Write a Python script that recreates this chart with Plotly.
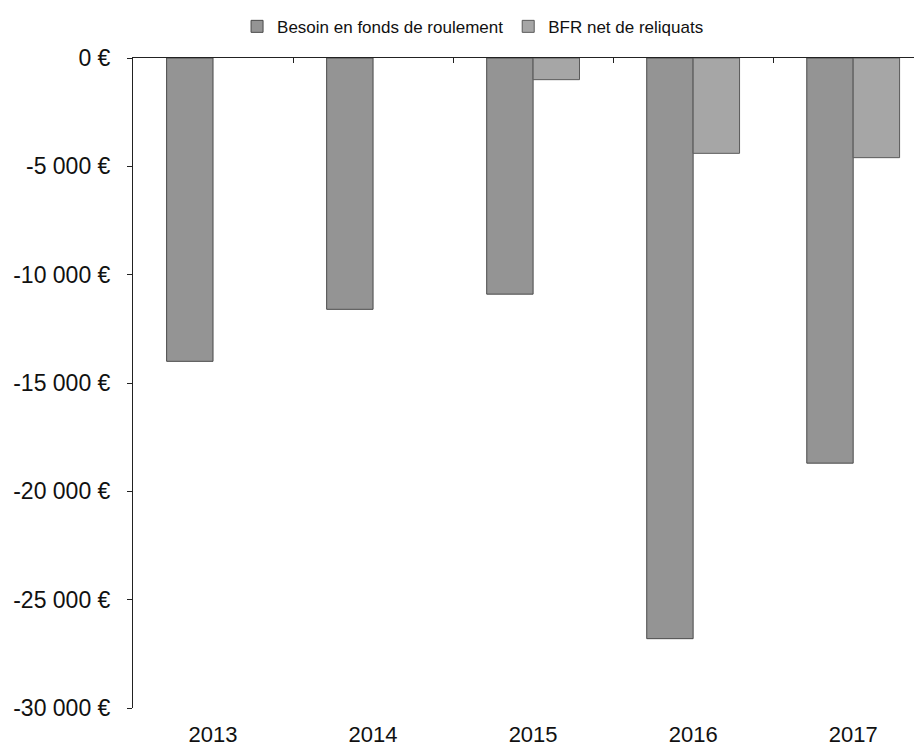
import plotly.graph_objects as go

years = ["2013", "2014", "2015", "2016", "2017"]
bfr = [-14000, -11600, -10900, -26800, -18700]
bfr_net = [None, None, -1000, -4400, -4600]
ytick_vals = [0, -5000, -10000, -15000, -20000, -25000, -30000]
ytick_text = ["0 €", "-5 000 €", "-10 000 €", "-15 000 €", "-20 000 €", "-25 000 €", "-30 000 €"]

font = "Liberation Sans"

fig = go.Figure()
fig.add_trace(go.Bar(
    x=years, y=bfr, name="Besoin en fonds de roulement",
    marker=dict(color="#949494", line=dict(color="#4a4a4a", width=1)),
))
fig.add_trace(go.Bar(
    x=years, y=bfr_net, name="BFR net de reliquats",
    marker=dict(color="#a6a6a6", line=dict(color="#5a5a5a", width=1)),
))
# invisible helper trace so the top (zero) category axis with boundary ticks is drawn
fig.add_trace(go.Scatter(
    x=years, y=bfr, mode="none", xaxis="x2", yaxis="y",
    showlegend=False, hoverinfo="skip",
))

fig.update_layout(
    width=914, height=741,
    margin=dict(l=125, r=0, t=50, b=41, autoexpand=False),
    paper_bgcolor="white", plot_bgcolor="white",
    barmode="group", bargap=0.42, bargroupgap=0,
    font=dict(family=font, color="#111111"),
    showlegend=True,
    legend=dict(orientation="h", x=0.431, xanchor="center", y=1.048, yanchor="middle",
                font=dict(size=17, family=font), traceorder="normal"),
    xaxis=dict(type="category", range=[-0.5, 4.43], showline=False, ticks="",
               showgrid=False, tickfont=dict(size=22), ticklabelstandoff=11),
    xaxis2=dict(type="category", overlaying="x", anchor="y", side="top",
                range=[-0.5, 4.43], showline=True, tickson="boundaries",
                linecolor="#222222", linewidth=1, ticks="inside", ticklen=5,
                tickcolor="#222222", showticklabels=False,
                showgrid=False, zeroline=False),
    yaxis=dict(range=[-30000, 0], tickvals=ytick_vals, ticktext=ytick_text,
               showline=True, linecolor="#222222", linewidth=1, ticks="outside",
               ticklen=5, tickcolor="#222222", showgrid=False, zeroline=False,
               tickfont=dict(size=23), ticklabelstandoff=12),
)

fig.write_html("out.html")
